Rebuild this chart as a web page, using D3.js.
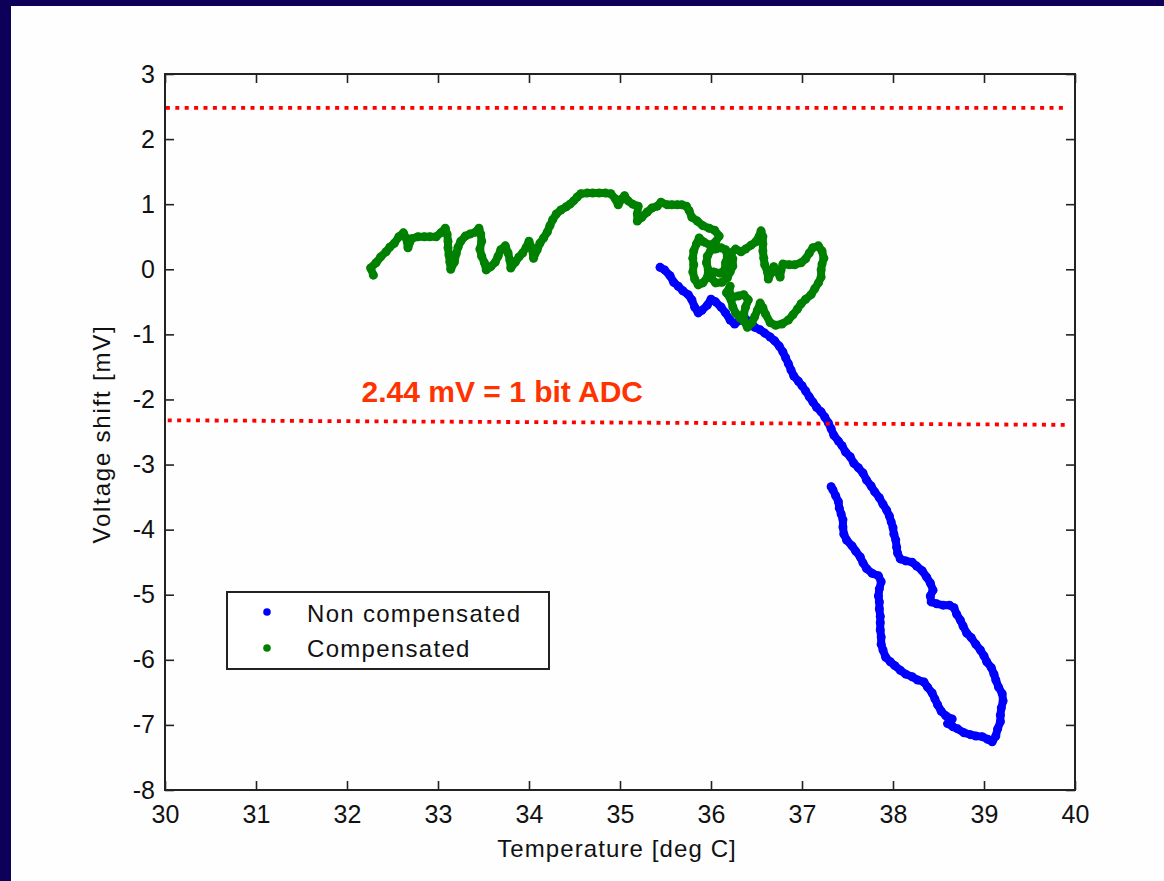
<!DOCTYPE html>
<html>
<head>
<meta charset="utf-8">
<script src="https://cdn.jsdelivr.net/npm/d3@7"></script>
<style>
    body { margin: 0; background: #0c0058; }
    svg { display: block; }
    .tick text { font-family: "Liberation Sans", Arial, sans-serif; font-size: 25px; fill: #111; }
    .label { font-family: "Liberation Sans", Arial, sans-serif; font-size: 24px; fill: #111; }
</style>
</head>
<body>
<div class="chart"></div>
<script>
// data (temperature in deg C, voltage shift in mV)
var blueData = [[35.44,0.03],[35.49,-0.01],[35.55,-0.10],[35.59,-0.20],[35.64,-0.26],[35.69,-0.33],[35.75,-0.39],[35.79,-0.47],[35.82,-0.58],[35.86,-0.67],[35.90,-0.63],[35.96,-0.55],[36.00,-0.46],[36.05,-0.50],[36.11,-0.58],[36.16,-0.67],[36.21,-0.78],[36.26,-0.84],[36.32,-0.78],[36.37,-0.75],[36.43,-0.81],[36.48,-0.89],[36.54,-0.93],[36.59,-0.98],[36.65,-1.04],[36.70,-1.10],[36.75,-1.18],[36.79,-1.27],[36.82,-1.36],[36.85,-1.45],[36.88,-1.55],[36.91,-1.64],[36.96,-1.72],[37.00,-1.79],[37.04,-1.87],[37.08,-1.96],[37.12,-2.04],[37.16,-2.12],[37.21,-2.19],[37.25,-2.27],[37.29,-2.36],[37.32,-2.45],[37.35,-2.55],[37.40,-2.64],[37.44,-2.71],[37.48,-2.81],[37.53,-2.88],[37.57,-2.98],[37.62,-3.05],[37.67,-3.13],[37.71,-3.24],[37.76,-3.33],[37.80,-3.42],[37.85,-3.51],[37.89,-3.61],[37.93,-3.70],[37.96,-3.79],[37.98,-3.88],[38.00,-3.97],[38.01,-4.07],[38.03,-4.16],[38.04,-4.27],[38.05,-4.36],[38.08,-4.45],[38.14,-4.48],[38.21,-4.50],[38.26,-4.56],[38.32,-4.63],[38.37,-4.73],[38.41,-4.82],[38.44,-4.93],[38.41,-5.02],[38.42,-5.11],[38.48,-5.14],[38.55,-5.16],[38.62,-5.16],[38.67,-5.20],[38.70,-5.30],[38.74,-5.39],[38.77,-5.48],[38.81,-5.59],[38.86,-5.66],[38.91,-5.76],[38.96,-5.85],[39.00,-5.94],[39.03,-6.03],[39.08,-6.12],[39.11,-6.22],[39.13,-6.31],[39.16,-6.42],[39.20,-6.52],[39.21,-6.63],[39.19,-6.74],[39.18,-6.85],[39.18,-6.95],[39.15,-7.06],[39.13,-7.17],[39.09,-7.26],[39.04,-7.22],[38.98,-7.18],[38.91,-7.17],[38.85,-7.15],[38.78,-7.12],[38.71,-7.06],[38.66,-7.03],[38.60,-6.98],[38.65,-6.91],[38.58,-6.86],[38.53,-6.79],[38.49,-6.69],[38.46,-6.60],[38.43,-6.51],[38.38,-6.42],[38.34,-6.34],[38.27,-6.31],[38.21,-6.26],[38.14,-6.22],[38.08,-6.16],[38.02,-6.09],[37.97,-6.03],[37.92,-5.96],[37.89,-5.85],[37.87,-5.76],[37.87,-5.65],[37.86,-5.54],[37.86,-5.43],[37.86,-5.33],[37.85,-5.22],[37.85,-5.11],[37.84,-5.02],[37.85,-4.91],[37.87,-4.80],[37.84,-4.71],[37.77,-4.67],[37.71,-4.60],[37.67,-4.51],[37.64,-4.42],[37.59,-4.33],[37.55,-4.25],[37.49,-4.16],[37.46,-4.07],[37.45,-3.96],[37.45,-3.85],[37.43,-3.76],[37.41,-3.67],[37.40,-3.57],[37.37,-3.48],[37.34,-3.39],[37.32,-3.34]];

var greenData = [[32.29,-0.09],[32.26,0.02],[32.32,0.10],[32.37,0.19],[32.43,0.27],[32.47,0.34],[32.52,0.40],[32.57,0.50],[32.62,0.56],[32.65,0.48],[32.67,0.33],[32.71,0.47],[32.78,0.50],[32.85,0.50],[32.91,0.50],[32.98,0.50],[33.03,0.56],[33.08,0.63],[33.10,0.54],[33.11,0.43],[33.11,0.33],[33.12,0.22],[33.13,0.11],[33.14,0.00],[33.18,0.11],[33.20,0.24],[33.22,0.34],[33.25,0.43],[33.30,0.51],[33.35,0.54],[33.41,0.57],[33.45,0.63],[33.47,0.54],[33.48,0.43],[33.46,0.31],[33.48,0.20],[33.51,0.10],[33.53,-0.01],[33.58,0.04],[33.63,0.11],[33.66,0.20],[33.69,0.30],[33.74,0.36],[33.77,0.25],[33.79,0.14],[33.80,0.02],[33.85,0.11],[33.89,0.19],[33.93,0.25],[33.97,0.34],[34.00,0.43],[34.03,0.33],[34.05,0.17],[34.09,0.30],[34.12,0.40],[34.16,0.48],[34.20,0.57],[34.23,0.67],[34.26,0.76],[34.30,0.85],[34.35,0.91],[34.41,0.96],[34.45,1.00],[34.49,1.05],[34.53,1.11],[34.57,1.16],[34.64,1.17],[34.70,1.17],[34.77,1.17],[34.84,1.17],[34.90,1.16],[34.95,1.08],[34.98,0.99],[35.02,1.08],[35.05,1.13],[35.09,1.05],[35.14,1.00],[35.20,0.97],[35.19,0.85],[35.19,0.74],[35.24,0.80],[35.30,0.88],[35.35,0.94],[35.41,0.97],[35.45,1.03],[35.52,0.99],[35.57,0.99],[35.63,0.99],[35.68,0.99],[35.73,0.97],[35.76,0.90],[35.79,0.80],
    [35.85,0.74],[35.91,0.67],[35.98,0.63],[36.04,0.60],[36.09,0.51],[36.05,0.42],[35.99,0.37],[35.92,0.42],[35.87,0.48],[35.84,0.39],[35.81,0.28],[35.80,0.17],[35.81,0.07],[35.80,-0.04],[35.82,-0.15],[35.86,-0.24],[35.91,-0.21],[35.96,-0.12],[35.97,-0.01],[35.95,0.10],[35.96,0.20],[36.00,0.30],[36.05,0.31],[36.11,0.33],[36.16,0.30],[36.18,0.20],[36.16,0.10],[36.15,-0.01],[36.10,-0.06],[36.03,-0.04],[36.00,-0.13],[36.05,-0.21],[36.12,-0.20],[36.18,-0.13],[36.21,-0.04],[36.24,0.05],[36.24,0.16],[36.22,0.25],[36.27,0.31],[36.33,0.27],[36.38,0.31],[36.44,0.37],[36.49,0.42],[36.53,0.51],[36.55,0.59],[36.57,0.50],[36.57,0.39],[36.57,0.28],[36.58,0.17],[36.59,0.07],[36.62,-0.04],[36.63,-0.15],[36.66,-0.06],[36.69,0.04],[36.73,-0.04],[36.76,-0.12],[36.77,-0.01],[36.79,0.08],[36.86,0.07],[36.92,0.07],[36.99,0.10],[37.04,0.16],[37.08,0.25],[37.12,0.33],[37.18,0.36],[37.22,0.28],[37.24,0.17],[37.22,0.08],[37.21,-0.01],[37.21,-0.12],[37.18,-0.21],[37.14,-0.30],[37.10,-0.39],[37.04,-0.46],[36.99,-0.53],[36.95,-0.61],[36.90,-0.70],[36.85,-0.78],[36.78,-0.84],[36.71,-0.86],[36.65,-0.82],[36.60,-0.69],[36.57,-0.59],[36.54,-0.52],[36.51,-0.63],[36.48,-0.73],[36.45,-0.82],[36.40,-0.89],[36.36,-0.79],[36.36,-0.69],[36.38,-0.58],[36.41,-0.47],[36.36,-0.39],[36.30,-0.41],[36.24,-0.43],[36.20,-0.35],[36.21,-0.26],[36.17,-0.36],[36.22,-0.47],[36.24,-0.58],[36.27,-0.67],[36.32,-0.75]];

var seriesNames = ['Non compensated', 'Compensated'];
var seriesColors = ['#0000ff', '#008000'];

var xTicks = [30, 31, 32, 33, 34, 35, 36, 37, 38, 39, 40];
var yTicks = [-8, -7, -6, -5, -4, -3, -2, -1, 0, 1, 2, 3];

// dotted red lines drawn on the slide (1 bit ADC band)
var upperLine = [[30.01, 2.48], [39.91, 2.48]];
var lowerLine = [[30.03, -2.32], [39.92, -2.39]];
var noteText = '2.44 mV = 1 bit ADC';
var notePos = [32.16, -2.04];

var width = 1164, height = 881;
var margin = {top: 74, right: 89, bottom: 91, left: 165};
var plotW = width - margin.left - margin.right;
var plotH = height - margin.top - margin.bottom;

var svg = d3.select('.chart').append('svg')
    .attr('width', width)
    .attr('height', height);

// slide background + white panel
svg.append('rect').attr('width', width).attr('height', height).attr('fill', '#0c0058');
svg.append('rect').attr('x', 11).attr('y', 6).attr('width', width - 11).attr('height', height - 6).attr('fill', '#fefefe');

var x = d3.scaleLinear().domain([30, 40]).range([0, plotW]);
var y = d3.scaleLinear().domain([-8, 3]).range([plotH, 0]);

var plain = function(d) { return String(d); }; // keep ascii hyphen like matlab

var g = svg.append('g').attr('transform', 'translate(' + margin.left + ',' + margin.top + ')');

// axes, ticks pointing inward like matlab
g.append('g').attr('transform', 'translate(0,' + plotH + ')')
    .call(d3.axisBottom(x).tickValues(xTicks).tickFormat(plain).tickSizeInner(-9).tickSizeOuter(0).tickPadding(15));
g.append('g')
    .call(d3.axisTop(x).tickValues(xTicks).tickFormat('').tickSizeInner(-9).tickSizeOuter(0));
g.append('g')
    .call(d3.axisLeft(y).tickValues(yTicks).tickFormat(plain).tickSizeInner(-9).tickSizeOuter(0).tickPadding(10));
g.append('g').attr('transform', 'translate(' + plotW + ',0)')
    .call(d3.axisRight(y).tickValues(yTicks).tickFormat('').tickSizeInner(-9).tickSizeOuter(0));

g.selectAll('.domain').attr('stroke', 'none');
g.selectAll('.tick line').attr('stroke', '#222').attr('stroke-width', 1.6);
g.selectAll('.tick text').attr('font-family', '"Liberation Sans", Arial, sans-serif').attr('font-size', 25);

g.append('rect')
    .attr('width', plotW).attr('height', plotH)
    .attr('fill', 'none').attr('stroke', '#222').attr('stroke-width', 2);

// data trails
var line = d3.line().x(function(d) { return x(d[0]); }).y(function(d) { return y(d[1]); });

[blueData, greenData].forEach(function(data, i) {
    g.append('path')
        .datum(data)
        .attr('d', line)
        .attr('fill', 'none')
        .attr('stroke', seriesColors[i])
        .attr('stroke-width', 8)
        .attr('stroke-linejoin', 'round')
        .attr('stroke-linecap', 'round');
    g.selectAll('.dot' + i)
        .data(data)
        .enter().append('circle')
        .attr('class', 'dot' + i)
        .attr('cx', function(d) { return x(d[0]); })
        .attr('cy', function(d) { return y(d[1]); })
        .attr('r', 4.5)
        .attr('fill', seriesColors[i]);
});

// red dotted lines
[upperLine, lowerLine].forEach(function(data) {
    g.append('path')
        .datum(data)
        .attr('d', line)
        .attr('fill', 'none')
        .attr('stroke', '#ff0000')
        .attr('stroke-width', 3.8)
        .attr('stroke-dasharray', '4,5.4');
});

g.append('text')
    .attr('x', x(notePos[0]))
    .attr('y', y(notePos[1]))
    .attr('font-family', '"Liberation Sans", Arial, sans-serif')
    .attr('font-size', 30)
    .attr('font-weight', 'bold')
    .attr('fill', '#ff3300')
    .text(noteText);

// legend
var legend = g.append('g').attr('transform', 'translate(62,518)');
legend.append('rect')
    .attr('width', 322).attr('height', 77)
    .attr('fill', '#fff').attr('stroke', '#222').attr('stroke-width', 2);
seriesNames.forEach(function(name, i) {
    legend.append('circle')
        .attr('cx', 40).attr('cy', 20 + i * 36)
        .attr('r', 3.8)
        .attr('fill', seriesColors[i]);
    legend.append('text')
        .attr('class', 'label')
        .attr('x', 80).attr('y', 30 + i * 35)
        .attr('letter-spacing', 1.3)
        .text(name);
});

// axis labels
svg.append('text')
    .attr('class', 'label')
    .attr('x', 617).attr('y', 857)
    .attr('text-anchor', 'middle')
    .attr('letter-spacing', 1.1)
    .text('Temperature [deg C]');

svg.append('text')
    .attr('class', 'label')
    .attr('transform', 'translate(110,434) rotate(-90)')
    .attr('text-anchor', 'middle')
    .attr('letter-spacing', 1.8)
    .text('Voltage shift [mV]');
</script>
</body>
</html>
